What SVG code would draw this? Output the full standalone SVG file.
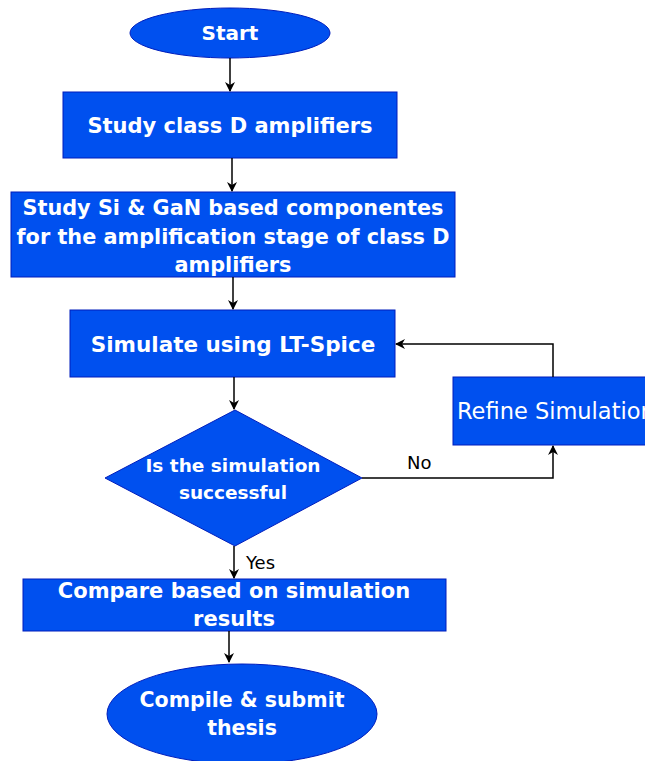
<svg xmlns="http://www.w3.org/2000/svg" width="645" height="761" viewBox="0 0 645 761">
<style>
.n{fill:#0050ef;stroke:#001dbc;stroke-width:1}
.t{fill:#ffffff;font-family:"DejaVu Sans",Verdana,sans-serif;font-weight:bold;font-size:21px;text-anchor:middle;dominant-baseline:central}
.c{fill:none;stroke:#000;stroke-width:1.5}
.l{fill:#000;font-family:"DejaVu Sans",Verdana,sans-serif;font-size:18px}
</style>
<defs>
<marker id="a" viewBox="0 0 10 10" refX="9" refY="5" markerWidth="10" markerHeight="10" markerUnits="userSpaceOnUse" orient="auto">
<path d="M0,0 L10,5 L0,10 L3,5 Z" fill="#000"/>
</marker>
</defs>
<rect width="645" height="761" fill="#fff"/>
<g id="start"><ellipse class="n" cx="230" cy="33" rx="100" ry="25"/><text class="t" x="230" y="33" style="font-size:20px">Start</text></g>
<g id="study-class-d"><rect class="n" x="63" y="92" width="334" height="66"/><text class="t" x="230" y="126">Study class D amplifiers</text></g>
<g id="study-si-gan"><rect class="n" x="11" y="192" width="444" height="85"/><text class="t" x="233" y="208" style="font-size:20.8px">Study Si &amp; GaN based componentes</text><text class="t" x="233" y="237" style="font-size:20.8px">for the amplification stage of class D</text><text class="t" x="233" y="265" style="font-size:20.8px">amplifiers</text></g>
<g id="simulate"><rect class="n" x="70" y="310" width="325" height="67"/><text class="t" x="233" y="344" style="font-size:21.5px">Simulate using LT-Spice</text></g>
<g id="decision"><polygon class="n" points="235,410 362,478 235,546 105,478"/><text class="t" x="233" y="465" style="font-size:18.5px">Is the simulation</text><text class="t" x="233" y="492" style="font-size:18.5px">successful</text></g>
<g id="refine"><rect class="n" x="453" y="377" width="220" height="68"/><text class="t" x="457" y="411" style="text-anchor:start;font-weight:normal;font-size:22.5px">Refine Simulation</text></g>
<g id="compare"><rect class="n" x="23" y="579" width="423" height="52"/><text class="t" x="234" y="591">Compare based on simulation</text><text class="t" x="234" y="619">results</text></g>
<g id="compile"><ellipse class="n" cx="242" cy="714" rx="135" ry="50"/><text class="t" x="242" y="700" style="font-size:20.5px">Compile &amp; submit</text><text class="t" x="242" y="728" style="font-size:20.5px">thesis</text></g>
<g id="connectors">
<path class="c" d="M230,58 V91" marker-end="url(#a)"/>
<path class="c" d="M232,158 V191" marker-end="url(#a)"/>
<path class="c" d="M233,277 V309" marker-end="url(#a)"/>
<path class="c" d="M234,377 V409" marker-end="url(#a)"/>
<path class="c" d="M234,546 V578" marker-end="url(#a)"/>
<path class="c" d="M229,631 V662" marker-end="url(#a)"/>
<path class="c" d="M362,478 H553 V446" marker-end="url(#a)"/>
<path class="c" d="M553,377 V344 H396" marker-end="url(#a)"/>
<text class="l" x="407" y="469">No</text>
<text class="l" x="246" y="569">Yes</text>
</g>
</svg>
